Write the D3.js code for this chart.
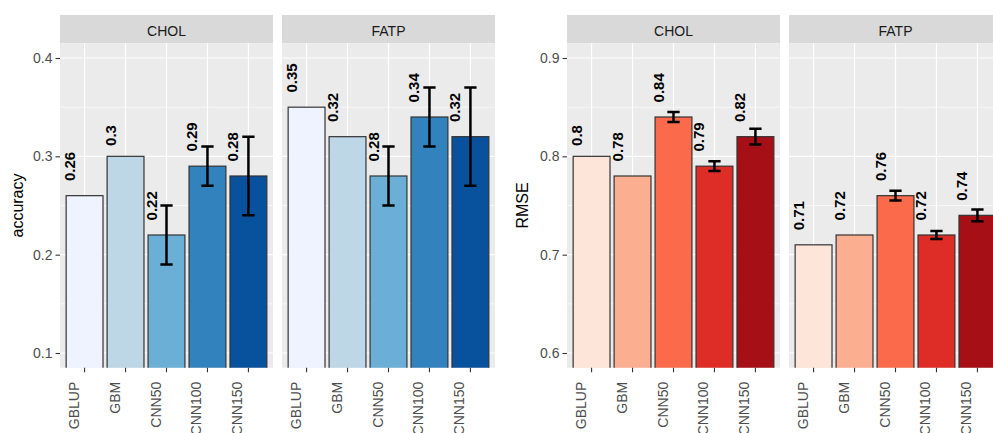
<!DOCTYPE html>
<html>
<head>
<meta charset="utf-8">
<script src="https://cdn.jsdelivr.net/npm/d3@7"></script>
<style>
  body { margin: 0; background: #fff; }
  svg { display: block; font-family: "Liberation Sans", Arial, sans-serif; }
</style>
</head>
<body>
<svg width="993" height="433"></svg>
<script>
// data
const models = ["GBLUP", "GBM", "CNN50", "CNN100", "CNN150"];
const traits = ["CHOL", "FATP"];

const accCHOL = [0.26, 0.30, 0.22, 0.29, 0.28];
const accCHOLsd = [null, null, 0.03, 0.02, 0.04];
const accFATP = [0.35, 0.32, 0.28, 0.34, 0.32];
const accFATPsd = [null, null, 0.03, 0.03, 0.05];

const rmseCHOL = [0.80, 0.78, 0.84, 0.79, 0.82];
const rmseCHOLsd = [null, null, 0.005, 0.005, 0.008];
const rmseFATP = [0.71, 0.72, 0.76, 0.72, 0.74];
const rmseFATPsd = [null, null, 0.005, 0.004, 0.006];

const accTicks = [0.1, 0.2, 0.3, 0.4];
const rmseTicks = [0.6, 0.7, 0.8, 0.9];

const blues = ["#EFF3FF", "#BDD7E7", "#6BAED6", "#3182BD", "#08519C"];
const reds = ["#FEE5D9", "#FCAE91", "#FB6A4A", "#DE2D26", "#A50F15"];

// layout
const panelW = 213;
const panelTop = 43.25, panelBot = 367.75;
const stripTop = 15;

const svg = d3.select("svg");
let clipId = 0;

function drawPlot(opt) {
  const lo = opt.ticks[0], hi = opt.ticks[opt.ticks.length - 1];
  const pad = (hi - lo) * 0.05;
  const y = d3.scaleLinear().domain([lo - pad, hi + pad]).range([panelBot, panelTop]);
  const minor = d3.range(opt.ticks.length - 1).map(i => (opt.ticks[i] + opt.ticks[i + 1]) / 2);

  // y axis title
  svg.append("text")
    .attr("transform", `translate(${opt.titleX},${(panelTop + panelBot) / 2}) rotate(-90)`)
    .attr("text-anchor", "middle")
    .attr("font-size", 16)
    .attr("fill", "#000")
    .text(opt.title);

  opt.panels.forEach((p, pi) => {
    const x = d3.scaleBand().domain(models).range([p.x0, p.x0 + panelW])
      .paddingInner(0.1).paddingOuter(0.15);
    const step = x.step();
    const g = svg.append("g");

    // strip
    g.append("rect").attr("x", p.x0).attr("y", stripTop)
      .attr("width", panelW).attr("height", panelTop - stripTop)
      .attr("fill", "#D9D9D9");
    g.append("text").attr("x", p.x0 + panelW / 2).attr("y", 36)
      .attr("text-anchor", "middle").attr("font-size", 14).attr("fill", "#1A1A1A")
      .text(p.trait);

    // panel background + grid
    g.append("rect").attr("x", p.x0).attr("y", panelTop)
      .attr("width", panelW).attr("height", panelBot - panelTop)
      .attr("fill", "#EBEBEB");
    g.selectAll(".minor").data(minor).enter().append("line")
      .attr("x1", p.x0).attr("x2", p.x0 + panelW)
      .attr("y1", d => y(d)).attr("y2", d => y(d))
      .attr("stroke", "#fff").attr("stroke-width", 0.6);
    g.selectAll(".major").data(opt.ticks).enter().append("line")
      .attr("x1", p.x0).attr("x2", p.x0 + panelW)
      .attr("y1", d => y(d)).attr("y2", d => y(d))
      .attr("stroke", "#fff").attr("stroke-width", 1.2);
    g.selectAll(".vmajor").data(models).enter().append("line")
      .attr("x1", d => x(d) + x.bandwidth() / 2).attr("x2", d => x(d) + x.bandwidth() / 2)
      .attr("y1", panelTop).attr("y2", panelBot)
      .attr("stroke", "#fff").attr("stroke-width", 1.2);

    const cid = "clip" + (clipId++);
    svg.append("clipPath").attr("id", cid).append("rect")
      .attr("x", p.x0).attr("y", panelTop)
      .attr("width", panelW).attr("height", panelBot - panelTop);
    const inner = g.append("g").attr("clip-path", `url(#${cid})`);

    const rows = models.map((m, i) => ({ m, v: p.values[i], sd: p.sd[i], c: opt.colors[i] }));

    // bars
    inner.selectAll(".bar").data(rows).enter().append("rect")
      .attr("x", d => x(d.m))
      .attr("y", d => y(d.v))
      .attr("width", x.bandwidth())
      .attr("height", d => y(lo - pad * 2) - y(d.v))
      .attr("fill", d => d.c)
      .attr("stroke", "#333").attr("stroke-width", 1.2);

    // error bars
    const eb = inner.selectAll(".eb").data(rows.filter(d => d.sd != null)).enter().append("g")
      .attr("stroke", "#000").attr("stroke-width", 2.5);
    const cap = step * 0.3 / 2;
    eb.append("line")
      .attr("x1", d => x(d.m) + x.bandwidth() / 2).attr("x2", d => x(d.m) + x.bandwidth() / 2)
      .attr("y1", d => y(d.v - d.sd)).attr("y2", d => y(d.v + d.sd));
    eb.append("line")
      .attr("x1", d => x(d.m) + x.bandwidth() / 2 - cap).attr("x2", d => x(d.m) + x.bandwidth() / 2 + cap)
      .attr("y1", d => y(d.v + d.sd)).attr("y2", d => y(d.v + d.sd));
    eb.append("line")
      .attr("x1", d => x(d.m) + x.bandwidth() / 2 - cap).attr("x2", d => x(d.m) + x.bandwidth() / 2 + cap)
      .attr("y1", d => y(d.v - d.sd)).attr("y2", d => y(d.v - d.sd));

    // value labels
    inner.selectAll(".lab").data(rows).enter().append("text")
      .attr("font-size", 15).attr("font-weight", "bold").attr("fill", "#000")
      .attr("text-anchor", "start")
      .text(d => String(d.v))
      .each(function (d) {
        const len = this.getComputedTextLength();
        const cx = x(d.m) + x.bandwidth() / 2;
        d3.select(this).attr("transform",
          `translate(${cx - 10},${y(d.v) - len * 0.5}) rotate(-90)`);
      });

    // y axis (first panel only)
    if (pi === 0) {
      const ya = svg.append("g").attr("transform", `translate(${p.x0},0)`)
        .call(d3.axisLeft(y).tickValues(opt.ticks).tickSize(4.5).tickPadding(3)
          .tickFormat(d3.format(".1f")));
      ya.select(".domain").remove();
      ya.selectAll("line").attr("stroke", "#333").attr("stroke-width", 1.1);
      ya.selectAll("text").attr("font-size", 14).attr("fill", "#4D4D4D")
        .attr("font-family", "Liberation Sans, Arial, sans-serif");
    }

    // x axis
    const xa = svg.append("g").attr("transform", `translate(0,${panelBot})`)
      .call(d3.axisBottom(x).tickSize(4.5));
    xa.select(".domain").remove();
    xa.selectAll("line").attr("stroke", "#333").attr("stroke-width", 1.1);
    xa.selectAll("text")
      .attr("font-size", 14).attr("fill", "#4D4D4D")
      .attr("font-family", "Liberation Sans, Arial, sans-serif")
      .attr("transform", "rotate(-90)")
      .attr("text-anchor", "end")
      .attr("x", -14).attr("y", -6).attr("dy", 0);
  });
}

drawPlot({
  title: "accuracy",
  titleX: 23,
  ticks: accTicks,
  colors: blues,
  panels: [
    { trait: traits[0], x0: 60, values: accCHOL, sd: accCHOLsd },
    { trait: traits[1], x0: 282, values: accFATP, sd: accFATPsd }
  ]
});

drawPlot({
  title: "RMSE",
  titleX: 528,
  ticks: rmseTicks,
  colors: reds,
  panels: [
    { trait: traits[0], x0: 567, values: rmseCHOL, sd: rmseCHOLsd },
    { trait: traits[1], x0: 789, values: rmseFATP, sd: rmseFATPsd }
  ]
});
</script>
</body>
</html>
